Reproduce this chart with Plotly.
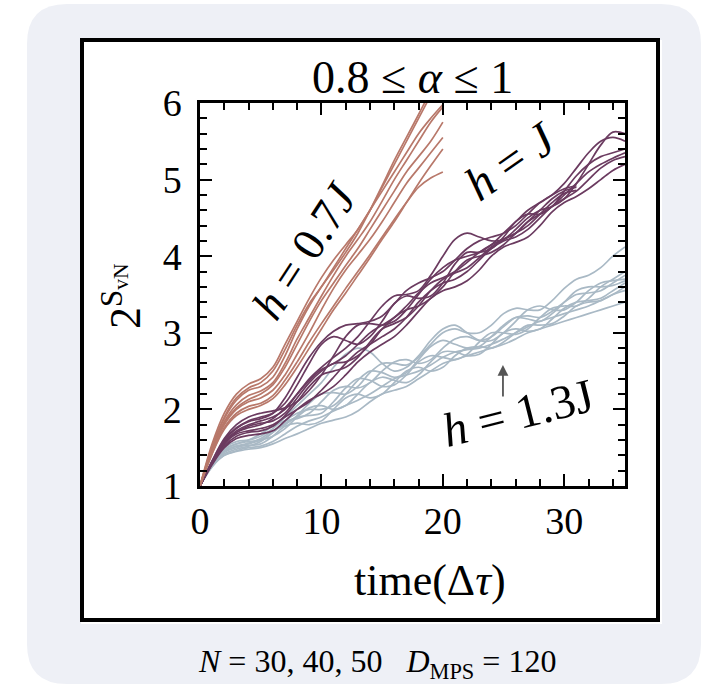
import plotly.graph_objects as go

# ---------------- data ----------------
t07 = list(range(0, 21))
h07_curves = [
    [1,1.55,1.95,2.2,2.33,2.4,2.55,2.85,3.15,3.45,3.72,3.95,4.15,4.35,4.6,4.9,5.2,5.5,5.8,6.1,6.4],
    [1,1.5,1.88,2.12,2.25,2.3,2.42,2.7,3.05,3.35,3.6,3.82,4.05,4.3,4.6,4.92,5.25,5.55,5.85,6.15,6.4],
    [1,1.52,1.9,2.15,2.28,2.35,2.5,2.78,3.1,3.38,3.6,3.85,4.1,4.35,4.6,4.85,5.1,5.35,5.6,5.8,5.98],
    [1,1.47,1.84,2.06,2.18,2.24,2.35,2.6,2.92,3.2,3.48,3.75,4.0,4.22,4.45,4.72,5.0,5.25,5.5,5.75,5.95],
    [1,1.46,1.82,2.02,2.13,2.2,2.32,2.55,2.85,3.15,3.42,3.65,3.88,4.1,4.35,4.6,4.85,5.1,5.3,5.5,5.75],
    [1,1.45,1.8,2.0,2.1,2.15,2.25,2.45,2.72,3.0,3.3,3.58,3.82,4.02,4.22,4.45,4.7,4.95,5.15,5.35,5.55],
    [1,1.43,1.76,1.95,2.04,2.08,2.18,2.38,2.62,2.88,3.12,3.35,3.58,3.8,4.02,4.25,4.48,4.7,4.9,5.02,5.1],
    [1,1.42,1.74,1.92,2.0,2.05,2.14,2.32,2.55,2.8,3.05,3.3,3.52,3.75,3.98,4.22,4.45,4.7,4.95,5.18,5.4],
]

t10 = list(range(0, 36))
h10_curves = [
    [1,1.3,1.55,1.7,1.78,1.82,1.85,1.95,2.15,2.35,2.5,2.6,2.62,2.7,2.85,3.05,3.2,3.3,3.35,3.45,3.6,3.8,3.95,4.0,4.05,4.15,4.3,4.45,4.55,4.65,4.8,4.95,5.1,5.2,5.28,5.35],
    [1,1.32,1.6,1.75,1.85,1.9,1.95,2.08,2.32,2.6,2.85,2.95,2.9,2.85,2.95,3.15,3.38,3.48,3.45,3.48,3.65,3.9,4.05,4.05,4.1,4.25,4.45,4.55,4.55,4.65,4.85,5.05,5.2,5.3,5.35,5.4],
    [1,1.33,1.62,1.8,1.9,1.95,1.98,2.02,2.1,2.25,2.45,2.7,2.95,3.1,3.12,3.1,3.15,3.3,3.5,3.7,3.85,3.95,4.0,4.05,4.15,4.3,4.45,4.6,4.7,4.8,4.95,5.15,5.35,5.5,5.55,5.5],
    [1,1.3,1.55,1.68,1.72,1.75,1.8,1.9,2.0,2.1,2.25,2.42,2.6,2.75,2.85,2.95,3.05,3.2,3.4,3.55,3.65,3.7,3.8,3.95,4.1,4.2,4.25,4.35,4.5,4.65,4.75,4.85,5.0,5.15,5.25,5.3],
    [1,1.31,1.58,1.72,1.8,1.85,1.9,2.0,2.2,2.4,2.55,2.68,2.8,2.95,3.15,3.35,3.48,3.5,3.55,3.75,4.0,4.22,4.3,4.25,4.2,4.22,4.35,4.5,4.6,4.65,4.75,4.95,5.2,5.45,5.62,5.6],
    [1,1.28,1.5,1.62,1.66,1.68,1.72,1.85,2.0,2.12,2.2,2.3,2.45,2.62,2.75,2.85,2.95,3.1,3.28,3.45,3.55,3.6,3.68,3.82,4.0,4.12,4.18,4.25,4.4,4.58,4.7,4.78,4.88,5.0,5.12,5.2],
    [1,1.3,1.56,1.7,1.76,1.8,1.88,2.02,2.2,2.38,2.52,2.6,2.7,2.85,3.0,3.1,3.2,3.35,3.52,3.65,3.72,3.8,3.92,4.05,4.15,4.22,4.3,4.45,4.6,4.75,4.85,4.9],
    [1,1.31,1.6,1.76,1.84,1.88,1.95,2.15,2.42,2.68,2.88,3.02,3.1,3.12,3.15,3.22,3.38,3.55,3.65,3.72,3.8,3.95,4.1,4.2,4.25,4.3,4.4,4.55,4.7,4.8,4.88,4.92],
    [1,1.29,1.52,1.65,1.7,1.72,1.78,1.92,2.1,2.3,2.45,2.5,2.55,2.68,2.88,3.05,3.12,3.2,3.35,3.55,3.7,3.78,3.85,3.98,4.12,4.22,4.3,4.4,4.55,4.7,4.82,4.86],
]

t13 = list(range(0, 36))
h13_curves = [
    [1,1.25,1.4,1.45,1.48,1.5,1.55,1.62,1.68,1.75,1.82,1.86,1.9,1.98,2.1,2.2,2.25,2.3,2.4,2.5,2.6,2.65,2.7,2.75,2.8,2.85,2.92,3.0,3.05,3.1,3.15,3.2,3.25,3.3,3.35,3.4],
    [1,1.28,1.45,1.52,1.53,1.55,1.65,1.78,1.82,1.8,1.85,2.0,2.15,2.2,2.15,2.2,2.35,2.5,2.55,2.5,2.55,2.7,2.8,2.82,2.8,2.88,3.0,3.1,3.1,3.12,3.22,3.35,3.4,3.42,3.5,3.6],
    [1,1.3,1.48,1.55,1.6,1.68,1.78,1.85,1.88,1.95,2.1,2.25,2.3,2.28,2.35,2.5,2.62,2.65,2.6,2.65,2.8,2.92,2.95,2.9,2.95,3.08,3.2,3.22,3.2,3.28,3.4,3.5,3.52,3.55,3.65,3.75],
    [1,1.3,1.5,1.58,1.6,1.65,1.75,1.9,2.05,2.2,2.35,2.55,2.72,2.8,2.75,2.6,2.5,2.55,2.7,2.9,3.05,3.1,3.0,2.9,2.9,3.0,3.15,3.3,3.35,3.3,3.3,3.4,3.55,3.65,3.68,3.7],
    [1,1.27,1.42,1.48,1.52,1.58,1.7,1.85,1.95,2.0,2.0,2.05,2.2,2.38,2.5,2.48,2.42,2.48,2.65,2.82,2.9,2.85,2.8,2.82,2.95,3.1,3.2,3.18,3.15,3.25,3.4,3.55,3.6,3.6,3.62,3.68],
    [1,1.3,1.46,1.52,1.56,1.62,1.72,1.8,1.92,2.08,2.2,2.22,2.2,2.3,2.48,2.6,2.6,2.58,2.68,2.85,3.0,3.05,3.0,3.0,3.1,3.25,3.32,3.3,3.3,3.42,3.58,3.7,3.75,3.85,4.0,4.12],
    [1,1.26,1.4,1.46,1.5,1.52,1.58,1.68,1.78,1.85,1.9,1.98,2.05,2.12,2.2,2.3,2.4,2.45,2.5,2.58,2.68,2.75,2.78,2.8,2.85,2.92,3.0,3.08,3.15,3.2,3.25,3.3,3.35,3.42,3.5,3.55],
    [1,1.29,1.47,1.55,1.58,1.6,1.65,1.75,1.9,2.02,2.05,2.0,2.05,2.2,2.35,2.42,2.38,2.35,2.45,2.62,2.75,2.75,2.7,2.72,2.85,3.0,3.05,3.02,3.05,3.18,3.32,3.4,3.42,3.45,3.55,3.65],
    [1,1.28,1.44,1.5,1.55,1.6,1.7,1.82,1.9,1.92,1.95,2.1,2.28,2.4,2.38,2.3,2.32,2.45,2.62,2.7,2.68,2.65,2.72,2.88,3.0,3.0,2.98,3.05,3.2,3.32,3.35,3.35,3.45,3.6,3.7,3.8],
]

x_ticks = [0, 10, 20, 30]
y_ticks = [1, 2, 3, 4, 5, 6]

col07 = "#b8786a"
col10 = "#6b3b60"
col13 = "#a9b9c5"

SERIF = "Liberation Serif, Times New Roman, serif"

# ---------------- geometry ----------------
W, H = 712, 689
L, R, T, B = 200, 625, 103, 486  # plot-area pixel box


def px(x):
    return (x - L) / (R - L)


def py(y):
    return (B - y) / (B - T)


fig = go.Figure()

for c in h13_curves:
    fig.add_trace(go.Scatter(x=t13[:len(c)], y=c, mode="lines",
                             line=dict(color=col13, width=1.7, shape="spline", smoothing=1.0),
                             hoverinfo="skip", showlegend=False))
for c in h10_curves:
    fig.add_trace(go.Scatter(x=t10[:len(c)], y=c, mode="lines",
                             line=dict(color=col10, width=1.7, shape="spline", smoothing=1.0),
                             hoverinfo="skip", showlegend=False))
for c in h07_curves:
    fig.add_trace(go.Scatter(x=t07[:len(c)], y=c, mode="lines",
                             line=dict(color=col07, width=1.7, shape="spline", smoothing=1.0),
                             hoverinfo="skip", showlegend=False))


def rounded_path(x0, y0, x1, y1, r):
    def P(a, b):
        return f"{px(a):.5f},{py(b):.5f}"
    s = f"M {P(x0 + r, y0)} L {P(x1 - r, y0)} Q {P(x1, y0)} {P(x1, y0 + r)} "
    s += f"L {P(x1, y1 - r)} Q {P(x1, y1)} {P(x1 - r, y1)} "
    s += f"L {P(x0 + r, y1)} Q {P(x0, y1)} {P(x0, y1 - r)} "
    s += f"L {P(x0, y0 + r)} Q {P(x0, y0)} {P(x0 + r, y0)} Z"
    return s


shapes = [
    dict(type="path", xref="paper", yref="paper", path=rounded_path(27, 4, 701, 684, 40),
         fillcolor="#eef0f6", line=dict(width=0), layer="below"),
    dict(type="rect", xref="paper", yref="paper", x0=px(81), x1=px(662), y0=py(40), y1=py(624),
         fillcolor="white", line=dict(width=0), layer="below"),
    dict(type="rect", xref="paper", yref="paper", x0=px(82), x1=px(658), y0=py(40), y1=py(620),
         fillcolor="rgba(0,0,0,0)", line=dict(width=4, color="black"), layer="below"),
]

annotations = [
    dict(xref="paper", yref="paper", x=px(412), y=py(77), text="0.8 ≤ <i>α</i> ≤ 1",
         showarrow=False, font=dict(family=SERIF, size=46, color="black"),
         xanchor="center", yanchor="middle"),
    dict(xref="paper", yref="paper", x=px(430), y=py(580), text="time(Δ<i>τ</i>)",
         showarrow=False, font=dict(family=SERIF, size=44, color="black"),
         xanchor="center", yanchor="middle"),
    dict(xref="paper", yref="paper", x=px(122), y=py(296), text="2<sup>S<sub>vN</sub></sup>",
         showarrow=False, textangle=-90, font=dict(family=SERIF, size=44, color="black"),
         xanchor="center", yanchor="middle"),
    dict(xref="paper", yref="paper", x=px(377), y=py(663),
         text="<i>N</i> = 30, 40, 50&nbsp;&nbsp;&nbsp;<i>D</i><sub>MPS</sub> = 120",
         showarrow=False, font=dict(family=SERIF, size=32, color="black"),
         xanchor="center", yanchor="middle"),
    dict(x=8.6, y=4.08, xref="x", yref="y", text="<i>h</i> = 0.7<i>J</i>", textangle=-57,
         showarrow=False, font=dict(family=SERIF, size=46, color="black")),
    dict(x=25.6, y=5.25, xref="x", yref="y", text="<i>h</i> = <i>J</i>", textangle=-35,
         showarrow=False, font=dict(family=SERIF, size=48, color="black")),
    dict(x=26.2, y=1.96, xref="x", yref="y", text="<i>h</i> = 1.3J", textangle=-14,
         showarrow=False, font=dict(family=SERIF, size=48, color="black")),
    dict(x=24.95, y=2.58, xref="x", yref="y", ax=24.95, ay=2.15, axref="x", ayref="y",
         text="", showarrow=True, arrowhead=2, arrowsize=1.2, arrowwidth=1.8,
         arrowcolor="#555555", standoff=0, startstandoff=0),
]

axis_common = dict(showgrid=False, zeroline=False, showline=True, linecolor="black",
                   linewidth=2.5, mirror="ticks", ticks="inside", ticklen=12, tickwidth=1.8,
                   tickcolor="black", tickfont=dict(family=SERIF, size=38, color="black"))

fig.update_layout(
    width=W, height=H,
    margin=dict(l=L, r=W - R, t=T, b=H - B, pad=0),
    paper_bgcolor="white", plot_bgcolor="rgba(0,0,0,0)",
    showlegend=False,
    shapes=shapes, annotations=annotations,
    xaxis=dict(range=[0, 35], tickvals=x_ticks, ticktext=[str(v) for v in x_ticks],
               minor=dict(dtick=2, ticks="inside", ticklen=7, tickwidth=1.5, tickcolor="black", showgrid=False),
               **axis_common),
    yaxis=dict(range=[1, 6], tickvals=y_ticks, ticktext=[str(v) for v in y_ticks],
               minor=dict(dtick=0.2, ticks="inside", ticklen=7, tickwidth=1.5, tickcolor="black", showgrid=False),
               ticklabelstandoff=8,
               **axis_common),
)

fig.write_html("out.html")
